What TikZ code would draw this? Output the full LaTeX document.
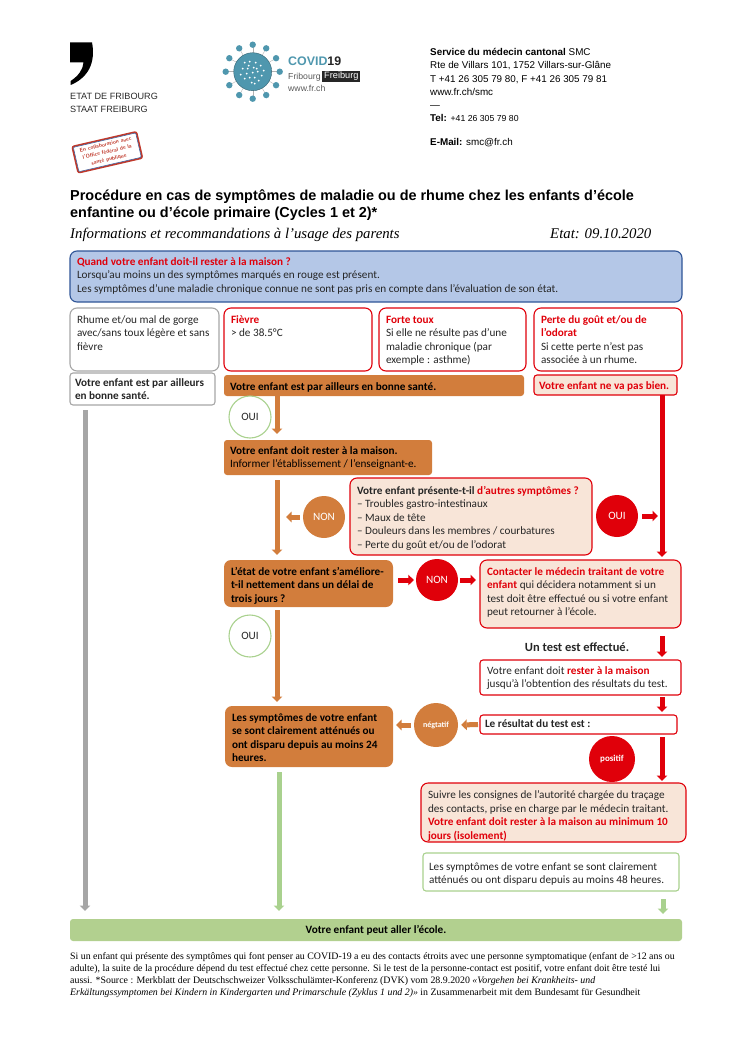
\documentclass[tikz,border=0pt]{standalone}
\usepackage{fontspec}
\setmainfont{Carlito}
\newfontfamily\arialf{Liberation Sans}
\newfontfamily\timesf{Liberation Serif}
\usepackage{xcolor}
\definecolor{redc}{HTML}{E0000A}
\definecolor{oranc}{HTML}{D27D3C}
\definecolor{paleor}{HTML}{F8E5D8}
\definecolor{bluec}{HTML}{B4C7E7}
\definecolor{bluedk}{HTML}{2F5597}
\definecolor{greenc}{HTML}{A9D18E}
\definecolor{greenf}{HTML}{B2D08F}
\definecolor{grayc}{HTML}{A6A6A6}
\definecolor{tealc}{HTML}{4F97AE}
\definecolor{stampc}{HTML}{C0392B}
\usetikzlibrary{arrows.meta,positioning,calc}
\tikzset{
  >={Triangle[width=10.5pt,length=5.5pt]},
  pad/.store in=\toppad,pad=5pt,
  txt/.style={font=\fontsize{11.2}{13.6}\selectfont,text=black!85,inner xsep=7pt,inner ysep=0pt,outer sep=0pt,rounded corners=7pt,line width=1.1pt},
  graybox/.style={txt,draw=grayc,fill=white},
  redbox/.style={txt,draw=redc,fill=white},
  palebox/.style={txt,draw=redc,fill=paleor},
  orbox/.style={txt,draw=none,fill=oranc,text=black},
  greenbox/.style={txt,draw=greenc,fill=white},
  sq/.style={rounded corners=3pt},
  rond/.style={circle,minimum size=42pt,inner sep=0pt,font=\fontsize{11.2}{13.6}\selectfont},
  rondor/.style={rond,fill=oranc,text=white},
  rondred/.style={rond,fill=redc,text=white},
  rondgr/.style={rond,draw=greenc,line width=1.1pt,fill=white,text=black!85},
  flor/.style={->,line width=5pt,draw=oranc},
  flred/.style={->,line width=5pt,draw=redc},
  flgreen/.style={->,line width=5pt,draw=greenc},
  flgray/.style={->,line width=5pt,draw=grayc},
  entete/.style={font=\arialf\fontsize{9.85}{13.3}\selectfont,align=left,anchor=north west,inner sep=0pt},
  logot/.style={font=\arialf\fontsize{9.1}{13}\selectfont,align=left,anchor=north west,inner sep=0pt,text=black!85},
}
\newcommand{\rt}[1]{\textcolor{redc}{\textbf{#1}}}
\newcommand{\fbx}[7][]{%
  \node[#1,anchor=north west] (#2) at (#3,#4) {\parbox[c][#6pt][t]{\dimexpr#5pt-14pt\relax}{\raggedright\vspace*{\toppad}\strut #7}};}

\begin{document}
\begin{tikzpicture}[x=1pt,y=-1pt]
  \useasboundingbox (0,0) rectangle (734,1038);
  \fill[black] (70,42.3) -- (92,42.3) .. controls (95,58) and (92,76) .. (70.7,85) -- (70.7,81) .. controls (78,76) and (83,70) .. (83.5,62.5) -- (70,62.5) -- cycle;
  \node[logot] (fribourg) at (70,92.5) {ETAT DE FRIBOURG\\STAAT FREIBURG};
  \node[rotate=13,draw=stampc,line width=1.6pt,rounded corners=2pt,fill=white,minimum width=66pt,minimum height=27pt,inner sep=0pt,align=center,text=stampc,font=\sffamily\bfseries\fontsize{5.4}{7.6}\selectfont] (stamp) at (107.3,152.3) {En collaboration avec\\l’Office fédéral de la\\santé publique};
  \node[rotate=13,draw=bluedk,line width=0.5pt,rounded corners=1pt,minimum width=64pt,minimum height=25pt,inner sep=0pt] (stampin) at (stamp.center) {};
  \foreach \a in {0,30,...,330} {
    \draw[gray!60,line width=0.4pt] (252.7,71.7) -- ++(\a:-27pt);
    \fill[tealc] (252.7,71.7) ++(\a:-27pt) circle (3.2pt);}
  \fill[tealc,draw=tealc!65!black,line width=0.4pt] (252.7,71.7) circle (19pt);
  \foreach \p/\q in {-8/-9,-3/-10,3/-9,-10/-3,-5/-3,1/-4,8/-6,11/-1,-12/3,-6/2,0/1,5/0,9/4,-8/7,-3/6,2/6,6/9,-1/11,-4/-6,4/-3,2/12} {
    \fill[white] (252.7+\p,71.7+\q) circle (1pt);}
  \node[entete,font=\arialf\bfseries\fontsize{12.4}{13}\selectfont,text=tealc] (covid) at (288,57) {COVID\textcolor{black!85}{19}};
  \node[entete,font=\arialf\fontsize{8.7}{13}\selectfont,text=black!65] (frib) at (288,73) {Fribourg};
  \node[fill=black!85,text=white,font=\arialf\fontsize{9.2}{10}\selectfont,inner xsep=2pt,inner ysep=1.5pt,anchor=west] (freib) at (322,76.5) {Freiburg};
  \node[entete,font=\arialf\fontsize{8.7}{13}\selectfont,text=black!65] (www) at (288,85) {www.fr.ch};
  \node[entete] (smc) at (430,48) {\textbf{Service du médecin cantonal} SMC\\Rte de Villars 101, 1752 Villars-sur-Glâne\\T +41 26 305 79 80, F +41 26 305 79 81\\www.fr.ch/smc\\—\\\textbf{Tel:} {\fontsize{8.7}{13}\selectfont +41 26 305 79 80}\\[10.7pt]\textbf{E-Mail:} smc@fr.ch};
  \node[entete,font=\arialf\bfseries\fontsize{14.43}{17}\selectfont] (titre) at (70,190) {Procédure en cas de symptômes de maladie ou de rhume chez les enfants d’école\\enfantine ou d’école primaire (Cycles 1 et 2)*};
  \node[entete,font=\timesf\itshape\fontsize{14.8}{17}\selectfont] (infos) at (70,228) {Informations et recommandations à l’usage des parents};
  \node[entete,font=\timesf\itshape\fontsize{14.8}{17}\selectfont] (date) at (550,228) {Etat: 09.10.2020};

  \fbx[txt,draw=bluedk,fill=bluec,pad=4.7pt]{quand}{70}{251}{612}{51}{\rt{Quand votre enfant doit-il rester à la maison ?}\\Lorsqu’au moins un des symptômes marqués en rouge est présent.\\Les symptômes d’une maladie chronique connue ne sont pas pris en compte dans l’évaluation de son état.}
  \fbx[graybox,pad=5.5pt]{rhume}{70}{308}{149}{63}{Rhume et/ou mal de gorge\\avec/sans toux légère et sans\\fièvre}
  \fbx[redbox,pad=5.5pt]{fievre}{224}{308}{148}{63}{\rt{Fièvre}\\> de 38.5°C}
  \fbx[redbox,pad=5.5pt]{toux}{379}{308}{147}{63}{\rt{Forte toux}\\Si elle ne résulte pas d’une\\maladie chronique (par\\exemple : asthme)}
  \fbx[redbox,pad=5.5pt]{perte}{534}{308}{148}{63}{\rt{Perte du goût et/ou de}\\\rt{l’odorat}\\Si cette perte n’est pas\\associée à un rhume.}
  \fbx[graybox,sq,inner xsep=5pt,pad=3.5pt]{ailleurs}{70}{373}{149}{32}{\textbf{Votre enfant est par ailleurs}\\\textbf{en bonne santé.}}
  \fbx[orbox,sq,inner xsep=6pt,pad=5.5pt]{bonne}{224}{375}{302}{21}{\textbf{Votre enfant est par ailleurs en bonne santé.}}
  \fbx[palebox,sq,inner xsep=5pt]{malade}{534}{375}{147}{20}{\rt{Votre enfant ne va pas bien.}}
  \fbx[orbox,sq,inner xsep=6pt,pad=4.5pt]{maison}{224}{440}{210}{35}{\textbf{Votre enfant doit rester à la maison.}\\Informer l’établissement / l’enseignant-e.}
  \fbx[palebox,pad=6.5pt]{autres}{350}{478}{242}{77}{\textbf{Votre enfant présente-t-il} \rt{d’autres symptômes ?}\\– Troubles gastro-intestinaux\\– Maux de tête\\– Douleurs dans les membres / courbatures\\– Perte du goût et/ou de l’odorat}
  \fbx[orbox,pad=5.5pt]{etat}{224}{560}{169}{47}{\textbf{L’état de votre enfant s’améliore-}\\\textbf{t-il nettement dans un délai de}\\\textbf{trois jours ?}}
  \fbx[palebox,pad=5.5pt]{contact}{480}{560}{201}{68}{\rt{Contacter le médecin traitant de votre}\\\rt{enfant} qui décidera notamment si un\\test doit être effectué ou si votre enfant\\peut retourner à l’école.}
  \node[font=\fontsize{12.5}{14}\selectfont\bfseries,text=black!85,inner sep=1pt] (testfait) at (577,647) {Un test est effectué.};
  \fbx[redbox,sq,pad=4.5pt]{rester}{480}{660}{201}{35}{Votre enfant doit \rt{rester à la maison}\\jusqu’à l’obtention des résultats du test.}
  \fbx[redbox,sq,inner xsep=5pt,pad=3pt]{resultat}{480}{715}{201}{19}{\textbf{Le résultat du test est :}}
  \fbx[orbox,pad=5.5pt]{attenue}{225}{706}{168}{61}{\textbf{Les symptômes de votre enfant}\\\textbf{se sont clairement atténués ou}\\\textbf{ont disparu depuis au moins 24}\\\textbf{heures.}}
  \fbx[palebox,pad=6pt]{suivre}{421}{783}{265}{59}{Suivre les consignes de l’autorité chargée du traçage\\des contacts, prise en charge par le médecin traitant.\\\rt{Votre enfant doit rester à la maison au minimum 10}\\\rt{jours (isolement)}}
  \fbx[greenbox,sq,inner xsep=6pt,pad=7.5pt]{heures}{423}{853}{258}{38}{Les symptômes de votre enfant se sont clairement\\atténués ou ont disparu depuis au moins 48 heures.}
  \node[txt,sq,fill=greenf,draw=none,minimum width=612pt,minimum height=22pt,anchor=north west,text=black,font=\fontsize{11.2}{13.6}\selectfont\bfseries] (ecole) at (70,919) {Votre enfant peut aller l’école.};

  \node[rondgr] (ouia) at (250,417) {OUI};
  \node[rondor] (nona) at (324,517) {NON};
  \node[rondred] (ouib) at (617,516) {OUI};
  \node[rondred] (nonb) at (437,580) {NON};
  \node[rondgr] (ouic) at (250,636) {OUI};
  \node[rondor,minimum size=44pt,font=\bfseries\fontsize{8}{10}\selectfont] (negatif) at (436,725) {négtatif};
  \node[rondred,minimum size=46pt,font=\bfseries\fontsize{9}{10}\selectfont] (positif) at (612,759) {positif};

  \draw[flgray,shorten <=5pt,shorten >=8pt] ([xshift=15pt]ailleurs.south west) -- ([xshift=15pt]ecole.north west);
  \draw[flor,shorten >=6pt] ([xshift=53pt]bonne.south west) -- ([xshift=53pt]maison.north west);
  \draw[flor,shorten <=5pt,shorten >=5pt] ([xshift=53pt]maison.south west) -- ([xshift=53pt]etat.north west);
  \draw[flor,shorten <=3pt,shorten >=3pt] (nona.west) -- (nona.west -| 283,0);
  \draw[flor,shorten <=3pt,shorten >=4pt] ([xshift=53pt]etat.south west) -- ([xshift=52pt]attenue.north west);
  \draw[flred,shorten >=3pt] ([xshift=128pt]malade.south west) -- ([xshift=182pt]contact.north west);
  \draw[flred,shorten <=4pt,shorten >=4pt] (ouib.east) -- (ouib.east -| 662,0);
  \draw[flred,shorten <=5pt,shorten >=2pt] (etat.east |- nonb.west) -- (nonb.west);
  \draw[flred,shorten <=2pt,shorten >=4pt] (nonb.east) -- (nonb.east -| contact.west);
  \draw[flred,shorten <=8pt,shorten >=3pt] ([xshift=182pt]contact.south west) -- ([xshift=182pt]rester.north west);
  \draw[flred,shorten <=2pt,shorten >=3pt] ([xshift=182pt]rester.south west) -- ([xshift=182pt]resultat.north west);
  \draw[flred,shorten <=3pt,shorten >=2pt] ([xshift=182pt]resultat.south west) -- ([xshift=241pt]suivre.north west);
  \draw[flor,shorten <=2pt,shorten >=3pt] (resultat.west) -- (negatif.east);
  \draw[flor,shorten <=3pt,shorten >=3pt] (negatif.west) -- (attenue.east |- negatif.west);
  \draw[flgreen,shorten <=5pt,shorten >=8pt] ([xshift=54pt]attenue.south west) -- ([xshift=209pt]ecole.north west);
  \draw[flgreen,shorten <=8pt,shorten >=5pt] ([xshift=240pt]heures.south west) -- ([xshift=593pt]ecole.north west);

  \node[anchor=north west,inner sep=0pt,font=\timesf\fontsize{9.87}{12.2}\selectfont,align=left] (note) at (70,952) {Si un enfant qui présente des symptômes qui font penser au COVID-19 a eu des contacts étroits avec une personne symptomatique (enfant de >12 ans ou\\adulte), la suite de la procédure dépend du test effectué chez cette personne. Si le test de la personne-contact est positif, votre enfant doit être testé lui\\aussi. *Source : Merkblatt der Deutschschweizer Volksschulämter-Konferenz (DVK) vom 28.9.2020 {\itshape «Vorgehen bei Krankheits- und}\\{\itshape Erkältungssymptomen bei Kindern in Kindergarten und Primarschule (Zyklus 1 und 2)»} in Zusammenarbeit mit dem Bundesamt für Gesundheit};
\end{tikzpicture}
\end{document}
